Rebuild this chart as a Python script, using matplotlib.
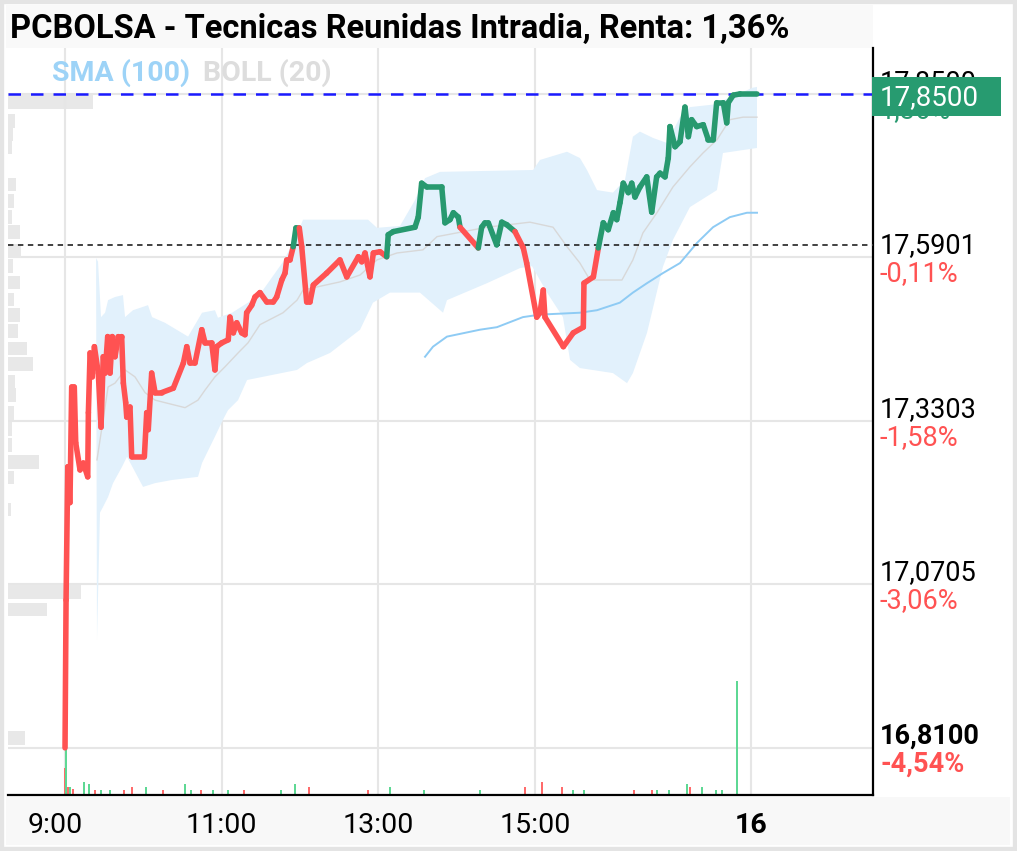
import matplotlib
matplotlib.use("Agg")
import matplotlib.pyplot as plt
import matplotlib.patches as mpatches
import matplotlib.transforms as mtransforms
from matplotlib.collections import LineCollection

plt.rcParams['font.family'] = ['Roboto', 'DejaVu Sans']

W, H = 1017, 851

prev_close = 17.61
last_price = 17.85

# minutes after 9:00 and traded price
t_price = [0.0, 0.8, 2.1, 3.8, 5.1, 7.1, 8.2, 11.5, 14.0, 17.4,
           17.9, 19.2, 20.9, 22.5, 25.5, 27.6, 29.3, 30.7, 32.7, 34.5,
           36.2, 38.3, 40.8, 43.4, 44.7, 46.5, 47.3, 49.8, 51.1, 60.8,
           62.6, 63.8, 66.4, 69.0, 74.1, 83.0, 90.7, 93.3, 95.8, 99.6,
           104.8, 107.3, 112.4, 114.9, 116.2, 120.1, 125.1, 126.4, 129.0, 131.6,
           135.4, 137.9, 139.2, 143.1, 145.6, 149.4, 154.6, 159.6, 162.2, 166.1,
           168.6, 169.9, 172.4, 174.9, 177.0, 179.5, 181.4, 185.2, 187.7, 190.3,
           200.5, 210.7, 215.9, 224.8, 227.4, 229.9, 233.7, 236.3, 241.4, 246.5,
           247.7, 251.6, 268.2, 270.7, 273.3, 277.2, 288.7, 291.2, 295.0, 297.6,
           301.4, 302.7, 316.7, 319.3, 321.8, 324.4, 330.8, 334.7, 338.5, 344.8,
           351.2, 353.8, 361.5, 364.0, 366.5, 367.8, 381.9, 389.5, 397.2, 397.7,
           404.9, 408.7, 412.5, 416.3, 420.2, 422.8, 425.3, 427.8, 431.7, 434.3,
           436.8, 440.6, 445.8, 449.6, 453.4, 456.0, 459.8, 462.3, 463.6, 467.5,
           471.3, 475.1, 477.7, 480.2, 484.1, 489.1, 493.0, 496.8, 499.4, 504.5,
           507.1, 508.3, 512.1, 517.3, 530.0]
price = [16.810, 17.045, 17.257, 17.200, 17.384, 17.384, 17.295, 17.252, 17.263, 17.241,
         17.343, 17.438, 17.400, 17.448, 17.406, 17.320, 17.432, 17.406, 17.464, 17.406,
         17.464, 17.432, 17.464, 17.464, 17.390, 17.359, 17.336, 17.352, 17.273, 17.273,
         17.343, 17.316, 17.406, 17.375, 17.375, 17.382, 17.422, 17.448, 17.422, 17.422,
         17.475, 17.454, 17.454, 17.411, 17.448, 17.454, 17.459, 17.495, 17.470, 17.486,
         17.470, 17.467, 17.502, 17.514, 17.527, 17.534, 17.519, 17.519, 17.527, 17.554,
         17.565, 17.586, 17.586, 17.607, 17.637, 17.637, 17.607, 17.519, 17.519, 17.546,
         17.565, 17.586, 17.559, 17.591, 17.583, 17.597, 17.559, 17.597, 17.599, 17.591,
         17.626, 17.631, 17.638, 17.654, 17.708, 17.702, 17.702, 17.645, 17.650, 17.661,
         17.654, 17.638, 17.605, 17.638, 17.645, 17.645, 17.610, 17.646, 17.642, 17.631,
         17.605, 17.581, 17.495, 17.502, 17.538, 17.495, 17.448, 17.470, 17.479, 17.549,
         17.559, 17.605, 17.645, 17.634, 17.661, 17.650, 17.677, 17.708, 17.693, 17.708,
         17.686, 17.702, 17.718, 17.662, 17.718, 17.724, 17.718, 17.748, 17.798, 17.766,
         17.774, 17.829, 17.782, 17.809, 17.798, 17.801, 17.777, 17.777, 17.836, 17.836,
         17.804, 17.836, 17.848, 17.850, 17.850]

# Bollinger (20) upper / lower / middle
t_boll_up = [23.8, 25.3, 27.6, 30.7, 33.0, 38.3, 44.4, 46.0, 52.1, 63.6, 66.7, 76.6, 94.3,
             105.0, 114.9, 117.2, 128.0, 140.2, 151.7, 167.1, 177.8, 182.4, 232.2, 239.1,
             256.7, 268.2, 275.9, 287.4, 358.7, 364.0, 384.7, 394.6, 400.0, 407.7, 419.9,
             429.1, 435.2, 440.6, 450.6, 461.2, 471.3, 478.9, 496.6, 527.2, 530.3]
boll_up = [17.589, 17.583, 17.495, 17.502, 17.522, 17.527, 17.530, 17.495, 17.506, 17.514,
           17.495, 17.486, 17.464, 17.502, 17.506, 17.494, 17.502, 17.518, 17.538, 17.583,
           17.626, 17.650, 17.650, 17.637, 17.640, 17.681, 17.716, 17.726, 17.729, 17.745,
           17.758, 17.748, 17.729, 17.697, 17.693, 17.713, 17.782, 17.790, 17.780, 17.772,
           17.813, 17.829, 17.833, 17.860, 17.861]
t_boll_lo = [24.5, 26.8, 29.1, 33.0, 36.8, 43.7, 47.5, 59.8, 69.0, 82.0, 101.9, 105.0,
             114.9, 121.1, 124.9, 132.6, 139.5, 177.8, 185.4, 203.1, 226.1, 236.0, 249.0,
             272.0, 289.7, 292.7, 323.4, 348.7, 357.9, 369.4, 381.6, 387.0, 394.6, 419.9,
             430.7, 435.2, 446.0, 458.2, 465.9, 478.9, 499.6, 504.2, 530.3]
boll_lo = [16.982, 17.184, 17.193, 17.209, 17.231, 17.257, 17.273, 17.225, 17.231, 17.236,
           17.241, 17.263, 17.305, 17.332, 17.347, 17.363, 17.395, 17.411, 17.422, 17.438,
           17.475, 17.518, 17.534, 17.534, 17.502, 17.522, 17.549, 17.573, 17.576, 17.534,
           17.495, 17.427, 17.414, 17.406, 17.390, 17.406, 17.470, 17.575, 17.618, 17.670,
           17.697, 17.756, 17.764]
t_boll_mid = [24.5, 33.0, 38.3, 46.0, 53.6, 61.3, 69.0, 76.6, 92.0, 101.9, 107.3, 114.9,
              122.6, 132.6, 140.2, 149.4, 167.1, 177.8, 182.4, 193.1, 210.7, 226.1, 239.1,
              254.4, 274.3, 285.1, 323.4, 356.3, 374.0, 384.7, 394.6, 402.3, 426.8, 435.2,
              442.9, 453.6, 465.9, 478.9, 488.9, 499.6, 509.5, 519.5, 530.3]
boll_mid = [17.268, 17.384, 17.390, 17.411, 17.400, 17.375, 17.363, 17.359, 17.351, 17.363,
            17.379, 17.400, 17.416, 17.438, 17.454, 17.483, 17.502, 17.522, 17.538, 17.543,
            17.551, 17.562, 17.586, 17.597, 17.602, 17.623, 17.638, 17.646, 17.638, 17.607,
            17.581, 17.554, 17.554, 17.586, 17.629, 17.661, 17.702, 17.734, 17.756, 17.777,
            17.809, 17.813, 17.813]

# SMA (100)
t_sma = [275.9, 282.0, 292.7, 318.0, 331.0, 350.9, 364.0, 394.6, 407.7, 425.2, 435.2,
         446.0, 458.2, 471.3, 484.3, 496.6, 509.5, 522.6, 530.3]
sma = [17.432, 17.448, 17.464, 17.475, 17.479, 17.495, 17.499, 17.502, 17.506, 17.518,
       17.534, 17.549, 17.565, 17.581, 17.613, 17.638, 17.654, 17.661, 17.661]

# volume per trade (minutes after 9:00, size, tick direction)
t_vol = [-0.4, 0.8, 2.3, 3.8, 6.1, 14.6, 18.4, 23.0, 27.6, 34.5, 45.2, 51.3, 62.1, 75.1,
         92.0, 96.6, 104.2, 113.4, 124.9, 137.2, 165.5, 176.2, 187.0, 232.2, 249.0, 275.1,
         318.0, 352.5, 365.5, 380.8, 389.2, 397.7, 436.0, 449.8, 453.6, 462.8, 476.6,
         478.9, 488.1, 498.8, 503.4, 514.9]
vol = [27, 47, 8, 8, 6, 13, 11, 5, 5, 5, 5, 8, 8, 5, 11, 5, 5, 5, 5, 5, 5, 11, 8, 5, 8, 5,
       5, 8, 13, 8, 5, 5, 5, 5, 5, 5, 11, 8, 8, 5, 5, 114]
vol_dir = ['d', 'u', 'd', 'u', 'd', 'u', 'u', 'd', 'u', 'u', 'd', 'd', 'u', 'd', 'u', 'u',
           'd', 'u', 'u', 'd', 'u', 'u', 'd', 'd', 'u', 'u', 'u', 'd', 'd', 'd', 'u', 'u',
           'd', 'd', 'u', 'u', 'u', 'd', 'u', 'u', 'u', 'u']

# volume profile by price level
profile_price = [17.837, 17.807, 17.786, 17.766, 17.706, 17.680, 17.654, 17.631, 17.600,
                 17.576, 17.550, 17.523, 17.499, 17.473, 17.445, 17.420, 17.392, 17.371,
                 17.343, 17.317, 17.292, 17.264, 17.240, 17.189, 17.058, 17.030, 16.826]
profile_vol = [85, 7, 5, 4, 8, 6, 4, 12, 13, 5, 12, 6, 12, 10, 19, 25, 7, 8, 6, 4, 4, 31,
               6, 3, 73, 39, 17]

tick_prices = [17.85, 17.5901, 17.3303, 17.0705, 16.81]
tick_price_labels = ['17,8500', '17,5901', '17,3303', '17,0705', '16,8100']
tick_pct_labels = ['1,36%', '-0,11%', '-1,58%', '-3,06%', '-4,54%']

time_ticks = [0, 120, 240, 360, 525.7]
time_labels = ['9:00', '11:00', '13:00', '15:00', '16']

title = 'PCBOLSA - Tecnicas Reunidas Intradia, Renta: 1,36%'

RED = '#ff5252'
GREEN = '#27996f'
xlim = (-43.7, 619.2)
ylim = (16.735, 17.923)

fig = plt.figure(figsize=(W / 100, H / 100), dpi=100)
pos = [8 / W, 1 - 795 / H, 865 / W, 747 / H]

# background layer: grid + volume profile
ax_prof = fig.add_axes(pos)
ax_prof.set_xlim(0, 865)
ax_prof.set_ylim(*ylim)
ax_prof.axis('off')
for p in tick_prices:
    ax_prof.axhline(p, color='#e6e6e6', lw=1.5, zorder=0)
ax_prof.barh(profile_price, profile_vol, height=0.022, left=0, color='#e8e8e8', zorder=1)

# volume layer
ax_vol = fig.add_axes(pos)
ax_vol.set_xlim(*xlim)
ax_vol.set_ylim(0, 747)
ax_vol.axis('off')
for t in time_ticks:
    ax_vol.axvline(t, color='#e6e6e6', lw=1.5, zorder=0)
vcol = ['#5ed894' if d == 'u' else '#ff6b6b' for d in vol_dir]
ax_vol.bar(t_vol, vol, width=1.5, color=vcol, zorder=2)

# price layer
ax = fig.add_axes(pos)
ax.set_facecolor('none')
ax.set_xlim(*xlim)
ax.set_ylim(*ylim)

ax.fill(t_boll_up + t_boll_lo[::-1], boll_up + boll_lo[::-1], color='#e2f1fc', lw=0, zorder=1)
ax.plot(t_boll_mid, boll_mid, color='#d8d8d8', lw=1, zorder=2)
ax.plot(t_sma, sma, color='#8ecbf4', lw=1.4, zorder=3)

ax.axhline(last_price, color='#1a1aff', lw=1.8, ls=(0, (5, 4)), zorder=4)
ax.axhline(prev_close, color='#333333', lw=1.3, ls=(0, (3, 2.5)), zorder=4)

segs = [[(t_price[i], price[i]), (t_price[i + 1], price[i + 1])] for i in range(len(price) - 1)]
cols = [GREEN if price[i + 1] >= prev_close else RED for i in range(len(price) - 1)]
lc = LineCollection(segs, colors=cols, linewidths=4.0, capstyle='round', zorder=5)
ax.add_collection(lc)

for s in ['left', 'top']:
    ax.spines[s].set_visible(False)
for s in ['right', 'bottom']:
    ax.spines[s].set_color('black')
    ax.spines[s].set_linewidth(1.6)
ax.set_yticks([])
ax.set_xticks(time_ticks, time_labels)
ax.tick_params(axis='x', length=0, pad=12, labelsize=20.5)
lbls = ax.get_xticklabels()
lbls[-1].set_fontweight('bold')
lbls[0].set_transform(lbls[0].get_transform() +
                      mtransforms.ScaledTranslation(-0.10, 0, fig.dpi_scale_trans))

# right-hand price / change labels
for i, (p, pl, cl) in enumerate(zip(tick_prices, tick_price_labels, tick_pct_labels)):
    bold = 'bold' if i == len(tick_prices) - 1 else 'normal'
    ccol = GREEN if i == 0 else RED
    ax.annotate(pl, xy=(1, p), xycoords=('axes fraction', 'data'), xytext=(7, 4),
                textcoords='offset pixels', va='baseline', ha='left', fontsize=19.5,
                color='black', fontweight=bold, annotation_clip=False)
    ax.annotate(cl, xy=(1, p), xycoords=('axes fraction', 'data'), xytext=(7, -24),
                textcoords='offset pixels', va='baseline', ha='left', fontsize=19.5,
                color=ccol, fontweight=bold, annotation_clip=False)

# frame pieces
fig.add_artist(mpatches.Rectangle((6 / W, 1 - 48 / H), 867 / W, 43 / H, transform=fig.transFigure,
                                  facecolor='#f9f9f9', edgecolor='none', zorder=-1))
fig.add_artist(mpatches.Rectangle((6 / W, 1 - 845 / H), 1004 / W, 48 / H, transform=fig.transFigure,
                                  facecolor='#f8f8f8', edgecolor='none', zorder=-1))
fig.add_artist(mpatches.Rectangle((0, 0), 1, 1, transform=fig.transFigure, fill=False,
                                  edgecolor='#e4e4e4', lw=6, zorder=10))

fig.text(10 / W, 1 - 38 / H, title, fontsize=23.5, fontweight='bold', va='baseline', ha='left')
fig.text(52 / W, 1 - 81 / H, 'SMA (100)', fontsize=20.5, fontweight='bold', color='#9dd3f7',
         va='baseline', ha='left')
fig.text(203 / W, 1 - 81 / H, 'BOLL (20)', fontsize=20.5, fontweight='bold', color='#dddddd',
         va='baseline', ha='left')

# last price tag
fig.add_artist(mpatches.Rectangle((872 / W, 1 - 116 / H), 129 / W, 39 / H, transform=fig.transFigure,
                                  facecolor='#279b70', edgecolor='none', zorder=5))
fig.text(880 / W, 1 - 105 / H, tick_price_labels[0], fontsize=20, color='white',
         va='baseline', ha='left', zorder=6)

fig.savefig('out.png', dpi=100)
